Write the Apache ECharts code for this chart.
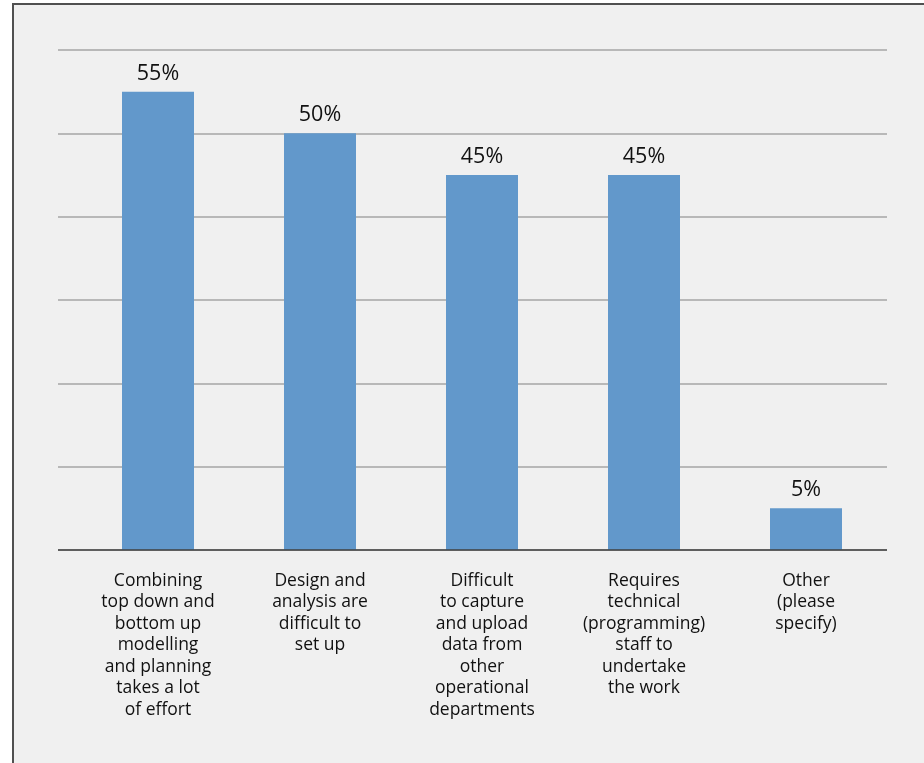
<!DOCTYPE html>
<html>
<head>
<meta charset="utf-8">
<script src="https://cdn.jsdelivr.net/npm/echarts@6/dist/echarts.min.js"></script>
<style>
  html, body { margin: 0; padding: 0; background: #ffffff; }
  #chart { width: 924px; height: 763px; }
</style>
</head>
<body>
<div id="chart"></div>
<script>
// Survey responses: share of respondents citing each difficulty
const categories = [
  'Combining\ntop down and\nbottom up\nmodelling\nand planning\ntakes a lot\nof effort',
  'Design and\nanalysis are\ndifficult to\nset up',
  'Difficult\nto capture\nand upload\ndata from\nother\noperational\ndepartments',
  'Requires\ntechnical\n(programming)\nstaff to\nundertake\nthe work',
  'Other\n(please\nspecify)'
];
const percentValues = [55, 50, 45, 45, 5];
const yTicks = [0, 10, 20, 30, 40, 50, 60];

const FONT = '"Open Sans", "Noto Sans", sans-serif';

const chart = echarts.init(document.getElementById('chart'), null, { renderer: 'canvas' });

chart.setOption({
  backgroundColor: '#ffffff',
  animation: false,
  graphic: [
    {
      type: 'rect',
      z: -10,
      shape: { x: 13, y: 4, width: 940, height: 800 },
      style: { fill: '#f0f0f0', stroke: '#505050', lineWidth: 2 }
    }
  ],
  grid: [
    // wide grid: horizontal gridlines only
    { left: 58, right: 37, top: 50, bottom: 213 },
    // bar area
    { left: 77, right: 37, top: 50, bottom: 213 }
  ],
  xAxis: [
    {
      gridIndex: 0, type: 'category', data: categories,
      show: false
    },
    {
      gridIndex: 1, type: 'category', data: categories,
      axisLine: { show: false },
      axisTick: { show: false },
      axisLabel: {
        interval: 0, margin: 20,
        color: '#111111', fontFamily: FONT, fontSize: 17.5, lineHeight: 21.5,
        align: 'center'
      }
    }
  ],
  yAxis: [
    {
      gridIndex: 0, type: 'value',
      min: yTicks[0], max: yTicks[yTicks.length - 1], interval: 10,
      axisLabel: { show: false }, axisTick: { show: false },
      axisLine: { show: false },
      splitLine: { show: true, lineStyle: { color: '#a6a6a6', width: 1.5 } }
    },
    {
      gridIndex: 1, type: 'value',
      min: yTicks[0], max: yTicks[yTicks.length - 1], interval: 10,
      show: false
    }
  ],
  series: [
    {
      type: 'bar',
      xAxisIndex: 1, yAxisIndex: 1,
      data: percentValues,
      barWidth: 72,
      itemStyle: { color: '#6298cb' },
      label: {
        show: true, position: 'top', distance: 7,
        formatter: '{c}%',
        color: '#111111', fontFamily: FONT, fontSize: 21.5
      },
      z: 3
    },
    {
      // baseline axis line spanning the full gridline width
      type: 'line',
      xAxisIndex: 0, yAxisIndex: 0,
      data: [],
      markLine: {
        silent: true, symbol: 'none', label: { show: false },
        lineStyle: { color: '#404040', width: 1.5, type: 'solid' },
        data: [{ yAxis: 0 }]
      },
      z: 4
    }
  ]
});
</script>
</body>
</html>
